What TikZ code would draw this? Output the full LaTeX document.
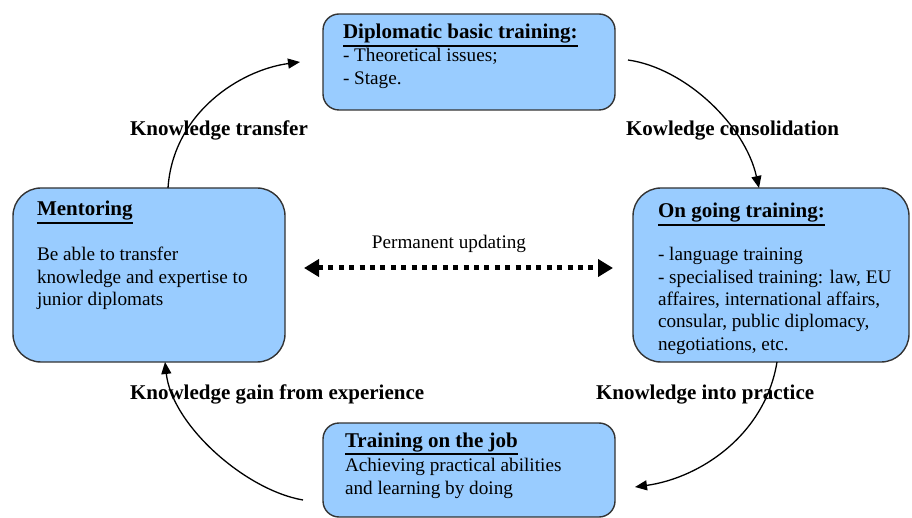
\documentclass[tikz,border=0pt]{standalone}
\usepackage{fontspec}
\setmainfont{Liberation Serif}
\usetikzlibrary{arrows.meta}
\definecolor{boxblue}{HTML}{99CCFF}
\definecolor{boxline}{HTML}{333333}
\newcommand\regf{\fontsize{19.2}{22}\selectfont}
\newcommand\boldf{\fontsize{21}{23}\selectfont\bfseries}
\newcommand\ulx[1]{\leavevmode\vtop{\hbox{#1}\kern1.8pt\hrule height 1.3pt}}
\begin{document}
\begin{tikzpicture}[x=1pt,y=-1pt,
  box/.style={draw=boxline, line width=1.4pt, fill=boxblue, inner sep=0pt, outer sep=0pt},
  txt/.style={inner sep=0pt, outer sep=0pt, anchor=base west, font=\regf},
  ttl/.style={inner sep=0pt, outer sep=0pt, anchor=base west, font=\boldf},
  lab/.style={inner sep=0pt, outer sep=0pt, anchor=base west, font=\boldf},
  flow/.style={line width=1.3pt, -{Triangle[length=12pt,width=10pt]}},
  updarrow/.style={line width=5pt, dash pattern=on 5pt off 5.4pt,
    {Triangle[length=15pt,width=17pt]}-{Triangle[length=15pt,width=17pt]}}]
\useasboundingbox (0,0) rectangle (912,518);

% boxes
\node[box, rounded corners=16pt, minimum width=292pt, minimum height=96pt] (dip) at (469,62) {};
\node[box, rounded corners=28pt, minimum width=272pt, minimum height=174pt] (ment) at (149,275) {};
\node[box, rounded corners=28pt, minimum width=276pt, minimum height=174pt] (ongo) at (771,275) {};
\node[box, rounded corners=16pt, minimum width=292pt, minimum height=94pt] (job) at (469,470) {};

% box texts
\node[ttl] (diptitle) at (343,39) {\ulx{Diplomatic basic training:}};
\node[txt] (dipbody) at (343,62) {\parbox[t]{260pt}{\baselineskip=23pt - Theoretical issues;\\- Stage.}};

\node[ttl] (menttitle) at (37,216) {\ulx{Mentoring}};
\node[txt] (mentbody) at (37,261) {\parbox[t]{240pt}{\baselineskip=22.5pt Be able to transfer\\knowledge and expertise to\\junior diplomats}};

\node[ttl] (ongotitle) at (658,218) {\ulx{On going training:}};
\node[txt] (ongobody) at (658,261) {\parbox[t]{250pt}{\baselineskip=22.3pt - language training\\- specialised training: law, EU\\affaires, international affairs,\\consular, public diplomacy,\\negotiations, etc.}};

\node[ttl] (jobtitle) at (345,447) {\ulx{Training on the job}};
\node[txt] (jobbody) at (345,471) {\parbox[t]{260pt}{\baselineskip=23.5pt Achieving practical abilities\\and learning by doing}};

% cycle labels
\node[lab] (l1) at (130,136) {Knowledge transfer};
\node[lab] (l2) at (626,136) {Kowledge consolidation};
\node[lab] (l3) at (130,399) {Knowledge gain from experience};
\node[lab] (l4) at (596,399) {Knowledge into practice};

% cycle arrows (note: y axis points down, shifts are in page orientation)
\draw[flow] ([xshift=19pt]ment.north) .. controls (173,113) and (240,70) .. ([xshift=-23pt]dip.west);
\draw[flow] ([xshift=13pt,yshift=2pt]dip.east) .. controls (685,68) and (745,125) .. ([xshift=-12pt]ongo.north);
\draw[flow] ([xshift=6pt]ongo.south) .. controls (765,435) and (700,478) .. ([xshift=20pt,yshift=-17pt]job.east);
\draw[flow] ([xshift=-20pt,yshift=-30pt]job.west) .. controls (245,490) and (172,425) .. ([xshift=16pt]ment.south);

% permanent updating
\node[inner sep=0pt, anchor=base, font=\regf] (upd) at (449,249) {Permanent updating};
\coordinate (ul) at (304,268);
\coordinate (ur) at (613,268);
\draw[updarrow] (ul) -- (ur);
\end{tikzpicture}
\end{document}
